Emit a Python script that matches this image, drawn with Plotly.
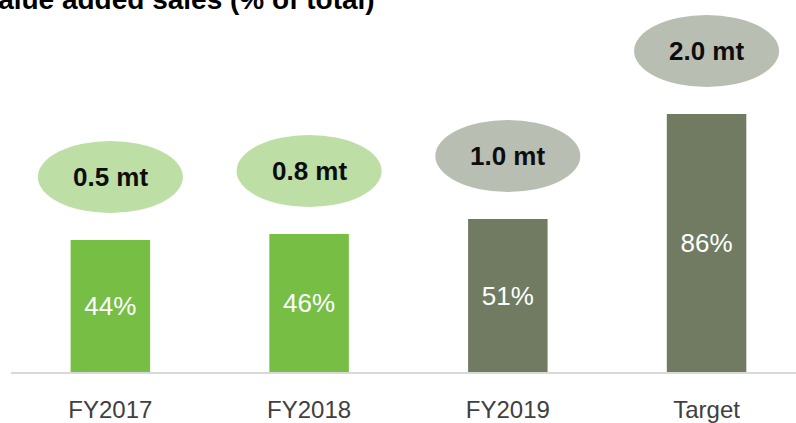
import plotly.graph_objects as go

categories = ["FY2017", "FY2018", "FY2019", "Target"]
share_pct = [44, 46, 51, 86]
bar_labels = ["44%", "46%", "51%", "86%"]
volume_labels = ["0.5 mt", "0.8 mt", "1.0 mt", "2.0 mt"]
bar_colors = ["#77BE45", "#77BE45", "#707B62", "#707B62"]
bubble_colors = ["#BDDFA6", "#BDDFA6", "#B9BEB3", "#B9BEB3"]
title_text = "Value added sales (% of total)"

W, H = 796, 423
ML, MR, MT, MB = 11, 0, 0, 51

fig = go.Figure()
fig.add_trace(go.Bar(
    x=categories, y=share_pct, width=0.4,
    marker=dict(color=bar_colors, line=dict(width=0)),
    text=bar_labels, textposition="inside", insidetextanchor="middle",
    textfont=dict(family="Liberation Sans", size=26, color="white"),
    textangle=0, cliponaxis=False, hoverinfo="skip",
))

BUBBLE_GAP = 21
BUBBLE_HALF_H = 12
BUBBLE_HALF_W = 0.365
for i, (v, lab, col) in enumerate(zip(share_pct, volume_labels, bubble_colors)):
    cy = v + BUBBLE_GAP
    fig.add_shape(type="circle", xref="x", yref="y",
                  x0=i - BUBBLE_HALF_W, x1=i + BUBBLE_HALF_W,
                  y0=cy - BUBBLE_HALF_H, y1=cy + BUBBLE_HALF_H,
                  fillcolor=col, line=dict(width=0), layer="below")
    fig.add_annotation(x=i, y=cy, xref="x", yref="y", text="<b>%s</b>" % lab,
                       showarrow=False,
                       font=dict(family="Liberation Sans", size=26, color="#0D0D0D"))

fig.add_annotation(x=(377 - ML) / (W - ML - MR), y=1, xref="paper", yref="paper",
                   xanchor="right", yanchor="bottom", yshift=-17,
                   text="<b>%s</b>" % title_text, showarrow=False,
                   font=dict(family="Liberation Sans", size=28, color="#000000"))

fig.update_layout(
    width=W, height=H,
    margin=dict(l=ML, r=MR, t=MT, b=MB, pad=0, autoexpand=False),
    paper_bgcolor="white", plot_bgcolor="white",
    showlegend=False,
    xaxis=dict(range=[-0.5, 3.45], showgrid=False, zeroline=False,
               showline=True, linecolor="#D9D9D9", linewidth=2,
               ticks="", ticklabelstandoff=15, automargin=False,
               tickfont=dict(family="Liberation Sans", size=24, color="#404040")),
    yaxis=dict(range=[0, 124], showgrid=False, zeroline=False, automargin=False,
               showticklabels=False, showline=False, ticks=""),
)

fig.write_html("out.html", config={"displayModeBar": False},
               post_script="document.body.style.margin='0';document.body.style.overflow='hidden';")
